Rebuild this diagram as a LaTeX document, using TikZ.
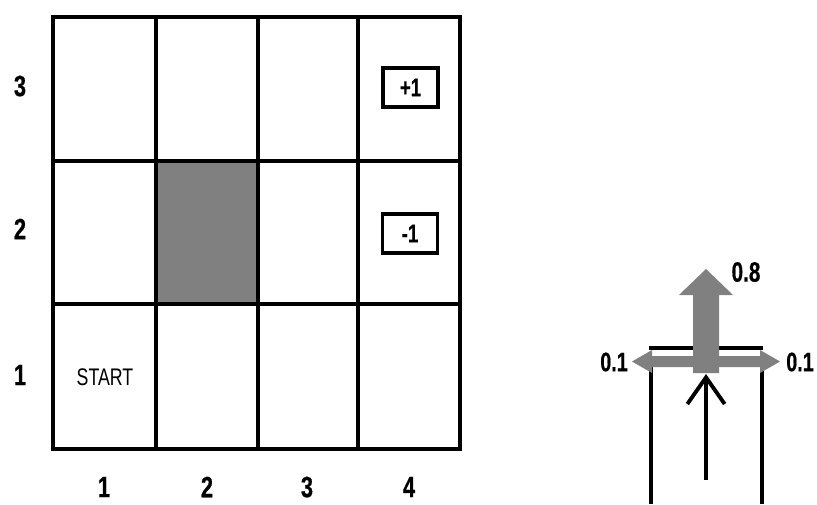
\documentclass[tikz,border=0pt]{standalone}
\usepackage{fontspec}
\setmainfont{Liberation Sans}[FakeStretch=0.74, BoldFeatures={FakeBold=0.6}]
\usetikzlibrary{arrows.meta}

\tikzset{
	wall/.style={line width=2.7pt},
	reward/.style={draw, line width=2.6pt, minimum width=41pt, minimum height=29pt, font=\bfseries\fontsize{19}{22}\selectfont},
	prob/.style={fill=gray, draw=none}
}

\begin{document}
\begin{tikzpicture}[x=0.75pt, y=-0.75pt, every node/.style={font=\bfseries\fontsize{22}{26}\selectfont, inner sep=0pt}, >={Straight Barb[length=20pt,width=28pt]}]
	\useasboundingbox (0,0) rectangle (817,504);
	% grid world
	\fill[gray] (156,161) rectangle (258,304);
	\foreach \x in {156,258,358} {\draw[wall] (\x,17) -- (\x,449);}
	\foreach \y in {161,304} {\draw[wall] (53,\y) -- (460,\y);}
	\draw[wall, line width=3.4pt] (53,17) rectangle (460,449);
	\foreach \n/\y in {3/86,2/229,1/375} {\node (row\n) at (20,\y) {\n};}
	\foreach \n/\x in {1/104,2/207,3/307,4/409} {\node (col\n) at (\x,487) {\n};}
	\node[font=\fontsize{18}{20}\selectfont] (start) at (105,377) {START};
	\node[reward] (plus) at (410.5,87.5) {+1};
	\node[reward] (minus) at (410,233.5) {-1};
	% transition model
	\draw[wall] (649,348) -- (763,348);
	\draw[wall] (651,356) -- (651,504); \draw[wall] (762,356) -- (762,504);
	\fill[prob] (652,356) -- (760,356) -- (760,350) -- (780,361.5) -- (760,373) -- (760,367)
		-- (652,367) -- (652,373) -- (632,361.5) -- (652,350) -- cycle;
	\fill[prob] (693,373) -- (693,295) -- (679,295) -- (706,269) -- (733,295) -- (719,295) -- (719,373) -- cycle;
	\draw[->, line width=2.9pt] (706,480) -- (706,374);
	\node[font=\bfseries\fontsize{21}{24}\selectfont] (up) at (746,272) {0.8};
	\node[font=\bfseries\fontsize{20}{22}\selectfont] (left) at (614,362) {0.1};
	\node[font=\bfseries\fontsize{20}{22}\selectfont] (right) at (800,362) {0.1};
\end{tikzpicture}
\end{document}
